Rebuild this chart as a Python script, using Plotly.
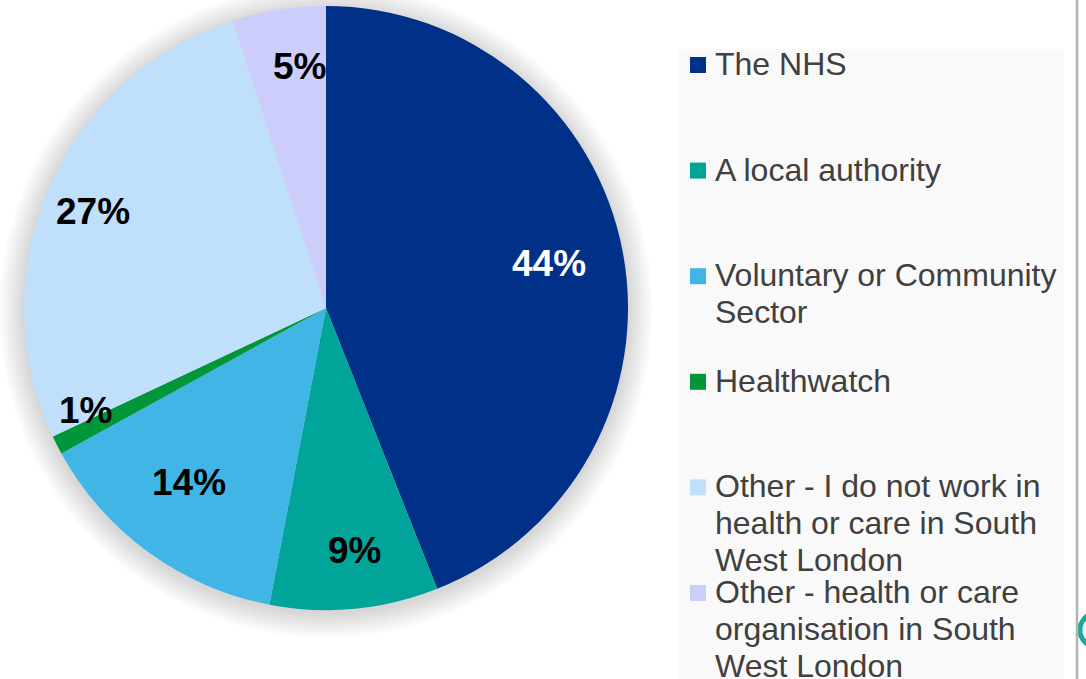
import math
import plotly.graph_objects as go

# ---------------- data ----------------
categories = [
    "The NHS",
    "A local authority",
    "Voluntary or Community Sector",
    "Healthwatch",
    "Other - I do not work in health or care in South West London",
    "Other - health or care organisation in South West London",
]
legend_labels = [
    "The NHS",
    "A local authority",
    "Voluntary or Community<br>Sector",
    "Healthwatch",
    "Other - I do not work in<br>health or care in South<br>West London",
    "Other - health or care<br>organisation in South<br>West London",
]
values = [44, 9, 14, 1, 27, 5]

# ---------------- style ----------------
colors = ["#003087", "#00A499", "#41B6E6", "#009639", "#BFDFFB", "#CDCDFB"]
label_colors = ["white", "black", "black", "black", "black", "black"]
# label placement: fraction of radius and small angular nudge (degrees)
label_radius_frac = [0.753, 0.807, 0.735, 0.865, 0.836, 0.806]
label_angle_nudge = [-0.6, -1.3, 2.0, 4.0, -1.0, 2.7]

W, H = 1086, 679
CX, CY, R = 326, 308, 302  # pie centre / radius in pixels
FONT = "Liberation Sans, Arial, sans-serif"


def px(x):
    return x / W


def py(y):
    return 1 - y / H


fig = go.Figure()
fig.add_trace(
    go.Pie(
        labels=categories,
        values=values,
        sort=False,
        direction="clockwise",
        rotation=0,
        textinfo="none",
        marker=dict(colors=colors, line=dict(width=0)),
        domain=dict(x=[px(CX - R), px(CX + R)], y=[py(CY + R), py(CY - R)]),
        showlegend=False,
    )
)

shapes = []
# soft shadow around the pie
for i in range(10):
    rr = R + 2 + i * 2.5
    shapes.append(
        dict(
            type="circle", xref="paper", yref="paper", layer="below",
            x0=px(CX - rr), x1=px(CX + rr), y0=py(CY + 3 + rr), y1=py(CY + 3 - rr),
            fillcolor="rgba(0,0,0,0.016)", line=dict(width=0),
        )
    )
# legend panel
shapes.append(
    dict(type="rect", xref="paper", yref="paper", layer="below",
         x0=px(678), x1=px(1064), y0=py(679), y1=py(49),
         fillcolor="#F9F9F9", line=dict(width=0))
)
# slide edge decorations on the right
shapes.append(
    dict(type="circle", xref="paper", yref="paper", layer="below",
         x0=px(1080), x1=px(1114), y0=py(647), y1=py(613),
         fillcolor="rgba(0,0,0,0)", line=dict(color="#1AA99C", width=5))
)
shapes.append(
    dict(type="line", xref="paper", yref="paper",
         x0=px(1077), x1=px(1077), y0=0, y1=1,
         line=dict(color="#B4B4B4", width=2.5))
)

annotations = []
# percentage labels
total = sum(values)
cum = 0
for v, c, f, nd in zip(values, label_colors, label_radius_frac, label_angle_nudge):
    mid = (cum + v / 2) / total * 2 * math.pi + math.radians(nd)
    cum += v
    x = CX + f * R * math.sin(mid)
    y = CY - f * R * math.cos(mid)
    annotations.append(
        dict(x=px(x), y=py(y), xref="paper", yref="paper",
             text=f"{v}%", showarrow=False, xanchor="center", yanchor="middle",
             font=dict(family=FONT, size=37, color=c, weight="bold"))
    )

# legend (markers + wrapped text)
LEG_TOP = 64       # centre of first line of first entry
LEG_STEP = 105.6   # distance between entries
LINE_STEP = 36.8   # distance between wrapped lines
for i, (lab, col) in enumerate(zip(legend_labels, colors)):
    y0 = LEG_TOP + i * LEG_STEP
    shapes.append(
        dict(type="rect", xref="paper", yref="paper",
             x0=px(690), x1=px(706), y0=py(y0 + 9), y1=py(y0 - 7),
             fillcolor=col, line=dict(width=0))
    )
    for j, line in enumerate(lab.split("<br>")):
        annotations.append(
            dict(x=px(713), y=py(y0 + j * LINE_STEP), xref="paper", yref="paper",
                 text=line, showarrow=False, xanchor="left", yanchor="middle",
                 font=dict(family=FONT, size=32, color="#404040"))
        )

fig.update_layout(
    width=W, height=H,
    margin=dict(l=0, r=0, t=0, b=0),
    paper_bgcolor="white", plot_bgcolor="white",
    shapes=shapes, annotations=annotations,
    showlegend=False,
)
fig.write_html("out.html")
